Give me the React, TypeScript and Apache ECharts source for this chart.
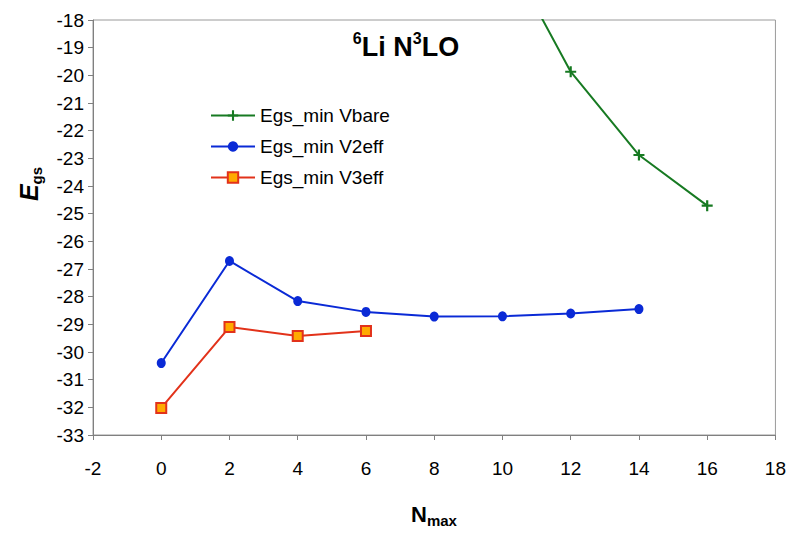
import React, { useEffect, useRef } from "react";
import * as echarts from "echarts";

const nmax = [0, 2, 4, 6, 8, 10, 12, 14, 16];
const bareX = [10, 12, 14, 16];
const bareY = [-15.3, -19.87, -22.88, -24.71];
const v2X = [0, 2, 4, 6, 8, 10, 12, 14];
const v2Y = [-30.4, -26.71, -28.16, -28.55, -28.72, -28.71, -28.61, -28.45];
const v3X = [0, 2, 4, 6];
const v3Y = [-32.02, -29.1, -29.42, -29.24];
const seriesNames = ["Egs_min Vbare", "Egs_min V2eff", "Egs_min V3eff"];

const FONT = "'Liberation Sans', Arial, sans-serif";
const PLUS = "path://M4,0H6V4H10V6H6V10H4V6H0V4H4Z";

const pairs = (xs: number[], ys: number[]) => xs.map((x, i) => [x, ys[i]]);

export default function App() {
  const ref = useRef<HTMLDivElement>(null);
  useEffect(() => {
    if (!ref.current) return;
    const chart = echarts.init(ref.current, undefined, { renderer: "svg" });
    chart.setOption({
      animation: false,
      backgroundColor: "#fff",
      grid: {
        left: 93,
        top: 20,
        right: 13,
        bottom: 101,
        show: true,
        borderColor: "#9a9a9a",
        borderWidth: 1,
      },
      xAxis: {
        type: "value",
        min: -2,
        max: 18,
        interval: 2,
        axisLine: { show: true, onZero: false, lineStyle: { color: "#808080", width: 1 } },
        axisTick: { show: true, length: 5, lineStyle: { color: "#808080" } },
        splitLine: { show: false },
        axisLabel: { color: "#000", fontSize: 19, fontFamily: FONT, margin: 24 },
      },
      yAxis: {
        type: "value",
        min: -33,
        max: -18,
        interval: 1,
        axisLine: { show: true, onZero: false, lineStyle: { color: "#808080", width: 1 } },
        axisTick: { show: true, length: 5, lineStyle: { color: "#808080" } },
        splitLine: { show: false },
        axisLabel: { color: "#000", fontSize: 19, fontFamily: FONT, margin: 9 },
      },
      legend: {
        orient: "vertical",
        left: 205,
        top: 101,
        itemWidth: 44,
        itemHeight: 13,
        itemGap: 12,
        textStyle: { color: "#000", fontSize: 19, fontFamily: FONT },
        data: seriesNames,
      },
      series: [
        {
          name: seriesNames[0],
          type: "line",
          data: pairs(bareX, bareY),
          symbol: PLUS,
          symbolSize: 11,
          lineStyle: { color: "#177a22", width: 2 },
          itemStyle: { color: "#177a22" },
          clip: true,
        },
        {
          name: seriesNames[1],
          type: "line",
          data: pairs(v2X, v2Y),
          symbol: "circle",
          symbolSize: [9, 10],
          lineStyle: { color: "#0a2ad6", width: 2 },
          itemStyle: { color: "#0a2ad6" },
        },
        {
          name: seriesNames[2],
          type: "line",
          data: pairs(v3X, v3Y),
          symbol: "rect",
          symbolSize: 10,
          lineStyle: { color: "#e2321a", width: 2 },
          itemStyle: { color: "#ffaa00", borderColor: "#e2321a", borderWidth: 2 },
        },
      ],
      graphic: [
        {
          type: "text",
          x: 406,
          y: 45,
          style: {
            text: "{sup|6}{b|Li N}{sup|3}{b|LO}",
            align: "center",
            verticalAlign: "middle",
            fill: "#000",
            rich: {
              b: { fontSize: 27, fontWeight: "bold", fontFamily: FONT, lineHeight: 30, verticalAlign: "bottom" },
              sup: { fontSize: 16, fontWeight: "bold", fontFamily: FONT, lineHeight: 30, verticalAlign: "top" },
            },
          },
        },
        {
          type: "text",
          x: 434,
          y: 512,
          style: {
            text: "{b|N}{s|max}",
            align: "center",
            verticalAlign: "middle",
            fill: "#000",
            rich: {
              b: { fontSize: 22, fontWeight: "bold", fontFamily: FONT, lineHeight: 26, verticalAlign: "bottom" },
              s: { fontSize: 15, fontWeight: "bold", fontFamily: FONT, lineHeight: 20, verticalAlign: "bottom", padding: [0, 0, -3, 0] },
            },
          },
        },
        {
          type: "text",
          x: 27,
          y: 184,
          rotation: Math.PI / 2,
          style: {
            text: "{e|E}{s|gs}",
            align: "center",
            verticalAlign: "middle",
            fill: "#000",
            rich: {
              e: { fontSize: 25, fontWeight: "bold", fontStyle: "italic", fontFamily: FONT, lineHeight: 28, verticalAlign: "bottom" },
              s: { fontSize: 15, fontWeight: "bold", fontFamily: FONT, lineHeight: 20, verticalAlign: "bottom", padding: [0, 0, -3, 0] },
            },
          },
        },
      ],
    });
    return () => chart.dispose();
  }, []);
  return (
    <div
      ref={ref}
      style={{ position: "absolute", left: 0, top: 0, width: 789, height: 536 }}
    />
  );
}
